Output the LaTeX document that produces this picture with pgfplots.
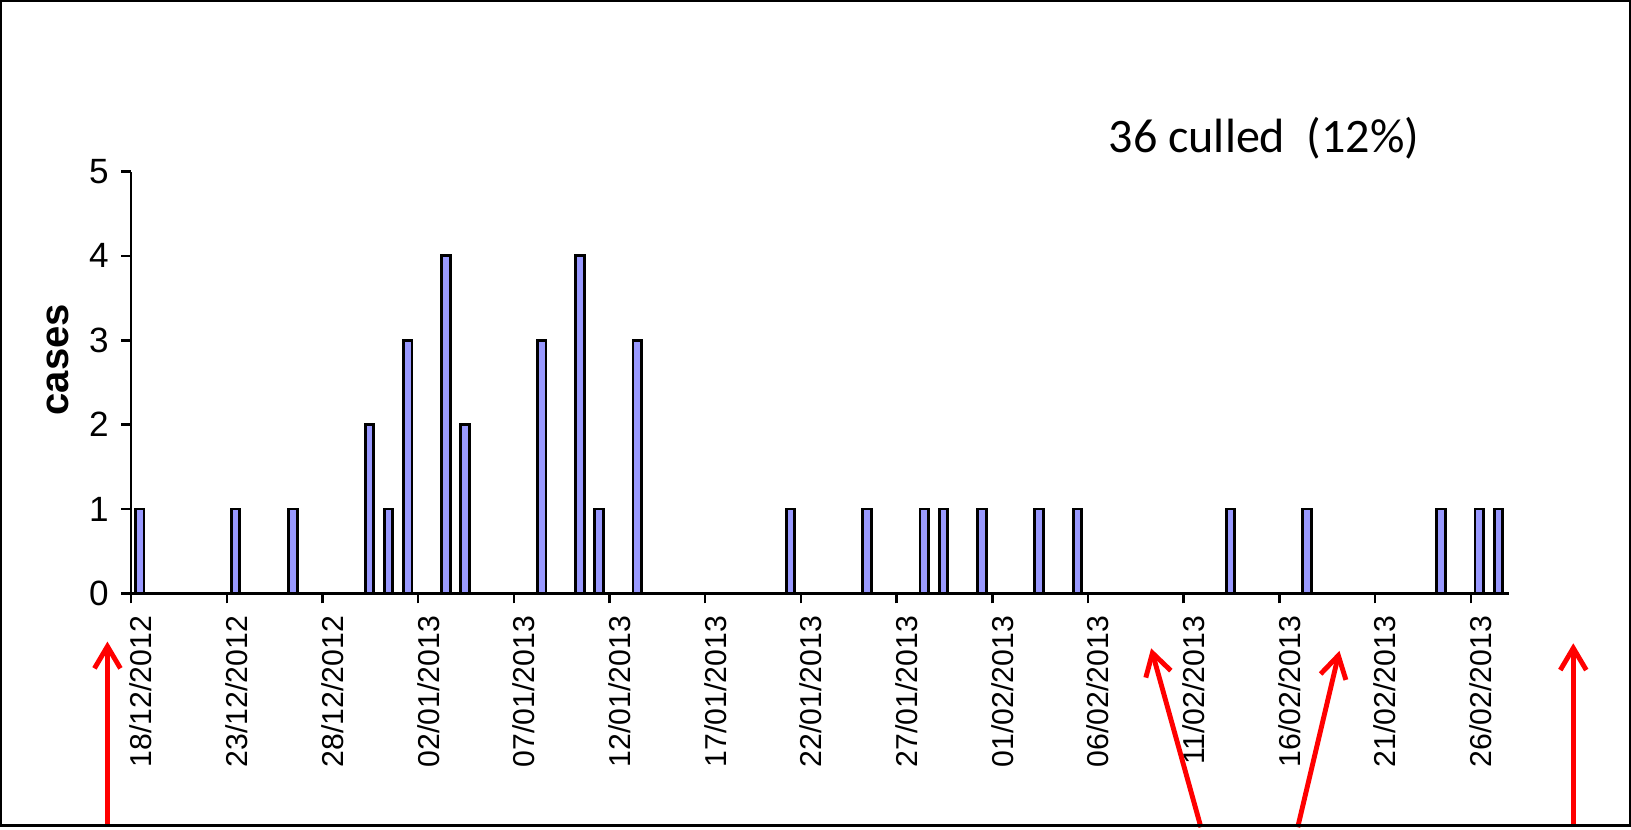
\documentclass[border=0pt]{standalone}
\usepackage{fontspec}
\setmainfont{Liberation Sans}
\newfontfamily\calibri{Carlito}
\usepackage{pgfplots}
\pgfplotsset{compat=1.18}
\usetikzlibrary{arrows.meta}
\definecolor{barblue}{RGB}{153,153,255}
\definecolor{arrowred}{RGB}{255,0,0}

\begin{document}
\begin{tikzpicture}
\begin{axis}[
  scale only axis, width=13.79cm, height=4.223cm,
  xmin=0, xmax=72, ymin=0, ymax=5,
  axis x line*=bottom, axis y line*=left,
  axis line style={line width=0.7pt},
  tick align=outside, major tick length=0.1cm,
  tick style={line width=0.7pt, black},
  xtick={0,5,...,70},
  xticklabels={18/12/2012,23/12/2012,28/12/2012,02/01/2013,07/01/2013,12/01/2013,17/01/2013,22/01/2013,27/01/2013,01/02/2013,06/02/2013,11/02/2013,16/02/2013,21/02/2013,26/02/2013},
  xticklabel style={font=\fontsize{8.6}{10}\selectfont, rotate=90, anchor=east, yshift=-0.1cm},
  ytick={0,...,5},
  yticklabel style={font=\fontsize{10}{12}\selectfont},
  /pgf/number format/assume math mode=true,
  ylabel={cases},
  ylabel style={font=\fontsize{11.4}{13}\selectfont\bfseries, at={(axis description cs:-0.0535,0.554)}, anchor=center},
  clip=false,
]
% cases per day, x = days after 18/12/2012
\addplot[ybar, bar width=0.45, bar shift=0.45, fill=barblue, draw=black, line width=0.8pt] coordinates {
  (0,1) (5,1) (8,1) (12,2) (13,1) (14,3) (16,4) (17,2)
  (21,3) (23,4) (24,1) (26,3) (34,1) (38,1) (41,1) (42,1)
  (44,1) (47,1) (49,1) (57,1) (61,1) (68,1) (70,1) (71,1)
};
\node[font=\calibri\fontsize{13.7}{16}\selectfont, anchor=base] at (axis cs:59.2,5.23) {36 culled\ \ (12\%)};
% red arrows
\draw[arrowred, line width=1.4pt, -{Straight Barb[length=0.22cm,width=0.26cm]}] (axis cs:-1.24,-2.77) -- (axis cs:-1.24,-0.57);
\draw[arrowred, line width=1.4pt, -{Straight Barb[length=0.22cm,width=0.26cm]}] (axis cs:55.9,-2.77) -- (axis cs:53.3,-0.65);
\draw[arrowred, line width=1.4pt, -{Straight Barb[length=0.22cm,width=0.26cm]}] (axis cs:60.96,-2.77) -- (axis cs:63.14,-0.68);
\draw[arrowred, line width=1.4pt, -{Straight Barb[length=0.22cm,width=0.26cm]}] (axis cs:75.36,-2.77) -- (axis cs:75.36,-0.59);
% chart frame
\draw[line width=0.6pt] (axis cs:-6.80,7.02) rectangle (axis cs:78.32,-2.75);
\end{axis}
\end{tikzpicture}
\end{document}
